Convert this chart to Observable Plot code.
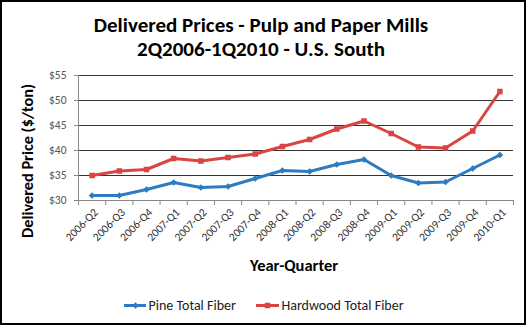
<!DOCTYPE html>
<html>
<head>
<meta charset="utf-8">
<script src="https://cdn.jsdelivr.net/npm/d3@7"></script>
<script src="https://cdn.jsdelivr.net/npm/@observablehq/plot@0.6"></script>
<style>
  html, body { margin: 0; padding: 0; background: #fff; }
  #wrap { position: relative; width: 526px; height: 325px; }
  #frame { position: absolute; left: 0; top: 0; width: 526px; height: 325px; box-sizing: border-box; border: 2px solid #000; pointer-events: none; }
</style>
</head>
<body>
<div id="wrap"><div id="frame"></div></div>
<script>
const quarters = ["2006-Q2","2006-Q3","2006-Q4","2007-Q1","2007-Q2","2007-Q3","2007-Q4","2008-Q1","2008-Q2","2008-Q3","2008-Q4","2009-Q1","2009-Q2","2009-Q3","2009-Q4","2010-Q1"];
const pine = [31.0, 31.0, 32.2, 33.6, 32.6, 32.8, 34.4, 36.0, 35.8, 37.2, 38.2, 35.0, 33.5, 33.7, 36.4, 39.1];
const hardwood = [35.0, 35.9, 36.2, 38.4, 37.9, 38.6, 39.3, 40.8, 42.2, 44.3, 45.9, 43.4, 40.7, 40.5, 43.9, 51.8];
const seriesNames = ["Pine Total Fiber", "Hardwood Total Fiber"];
const seriesColors = ["#2E7BC0", "#D94543"];
const yTicks = [30, 35, 40, 45, 50, 55];
const titleLines = ["Delivered Prices - Pulp and Paper Mills", "2Q2006-1Q2010 - U.S. South"];
const xTitle = "Year-Quarter";
const yTitle = "Delivered Price ($/ton)";

const data = [];
quarters.forEach((q, i) => {
  data.push({i, q, value: pine[i], series: seriesNames[0]});
  data.push({i, q, value: hardwood[i], series: seriesNames[1]});
});
const boundaries = d3.range(quarters.length + 1).map(k => k - 0.5);
const font = "Carlito, Calibri, 'Open Sans', sans-serif";

const chart = Plot.plot({
  width: 526,
  height: 325,
  marginLeft: 78,
  marginRight: 13,
  marginTop: 75,
  marginBottom: 125,
  style: {fontFamily: font, fontSize: "11px", color: "#000", background: "transparent", overflow: "visible"},
  x: {type: "linear", domain: [-0.5, quarters.length - 0.5], axis: null},
  y: {domain: [30, 55], axis: null},
  color: {domain: seriesNames, range: seriesColors},
  symbol: {domain: seriesNames, range: ["diamond2", "square"]},
  marks: [
    Plot.ruleY(yTicks.filter(t => t > 30), {stroke: "#333", strokeWidth: 1}),
    Plot.axisY({ticks: yTicks, tickFormat: d => "$" + d, tickSize: 4, tickPadding: 8, stroke: "#888", fill: "#555", fontSize: 11.5, label: null}),
    Plot.ruleX([-0.5], {stroke: "#888"}),
    Plot.ruleY([30], {stroke: "#888"}),
    Plot.axisX({ticks: boundaries, tickFormat: () => "", tickSize: 5, stroke: "#888", label: null}),
    Plot.axisX({ticks: d3.range(quarters.length), tickFormat: i => quarters[i], tickSize: 0, tickPadding: 10, tickRotate: -45, fill: "#333", fontSize: 11.5, label: null, dx: 4}),
    Plot.line(data, {x: "i", y: "value", stroke: "series", z: "series", strokeWidth: 3}),
    Plot.dot(data, {x: "i", y: "value", fill: "series", symbol: "series", r: d => d.series === seriesNames[1] ? 5 : 4.6, stroke: "none"}),
    Plot.text([titleLines[0]], {frameAnchor: "top", dy: -58, fontSize: 21, fontWeight: "bold", dx: -35, fill: "#000"}),
    Plot.text([titleLines[1]], {frameAnchor: "top", dy: -34, fontSize: 21, fontWeight: "bold", dx: -35, fill: "#000"}),
    Plot.text([xTitle], {frameAnchor: "bottom", dy: 70, fontSize: 16.5, fontWeight: "bold", fill: "#000", dx: -2}),
    Plot.text([yTitle], {frameAnchor: "left", textAnchor: "middle", dx: -51, rotate: -90, fontSize: 16.3, fontWeight: "bold", fill: "#000", dy: 23})
  ]
});
document.getElementById("wrap").prepend(chart);

// legend drawn via Plot in a small overlay SVG
const legendData = seriesNames.map((name, k) => ({name, k}));
const legend = Plot.plot({
  width: 526, height: 30,
  margin: 0,
  style: {fontFamily: font, fontSize: "14px", background: "transparent", position: "absolute", left: "0px", top: "290px"},
  x: {domain: [0, 526], axis: null},
  y: {domain: [0, 30], axis: null},
  color: {domain: seriesNames, range: seriesColors},
  symbol: {domain: seriesNames, range: ["diamond2", "square"]},
  marks: [
    Plot.ruleY(legendData, {x1: d => d.k === 0 ? 124 : 256, x2: d => d.k === 0 ? 146 : 279, y: 15, stroke: "name", strokeWidth: 3}),
    Plot.dot(legendData, {x: d => d.k === 0 ? 135 : 267, y: 15, fill: "name", symbol: "name", r: d => d.k === 0 ? 4 : 4.5}),
    Plot.text(legendData, {x: d => d.k === 0 ? 148 : 281, y: 15, text: "name", textAnchor: "start", fontSize: 14, fill: "#222"})
  ]
});
document.getElementById("wrap").appendChild(legend);
</script>
</body>
</html>
